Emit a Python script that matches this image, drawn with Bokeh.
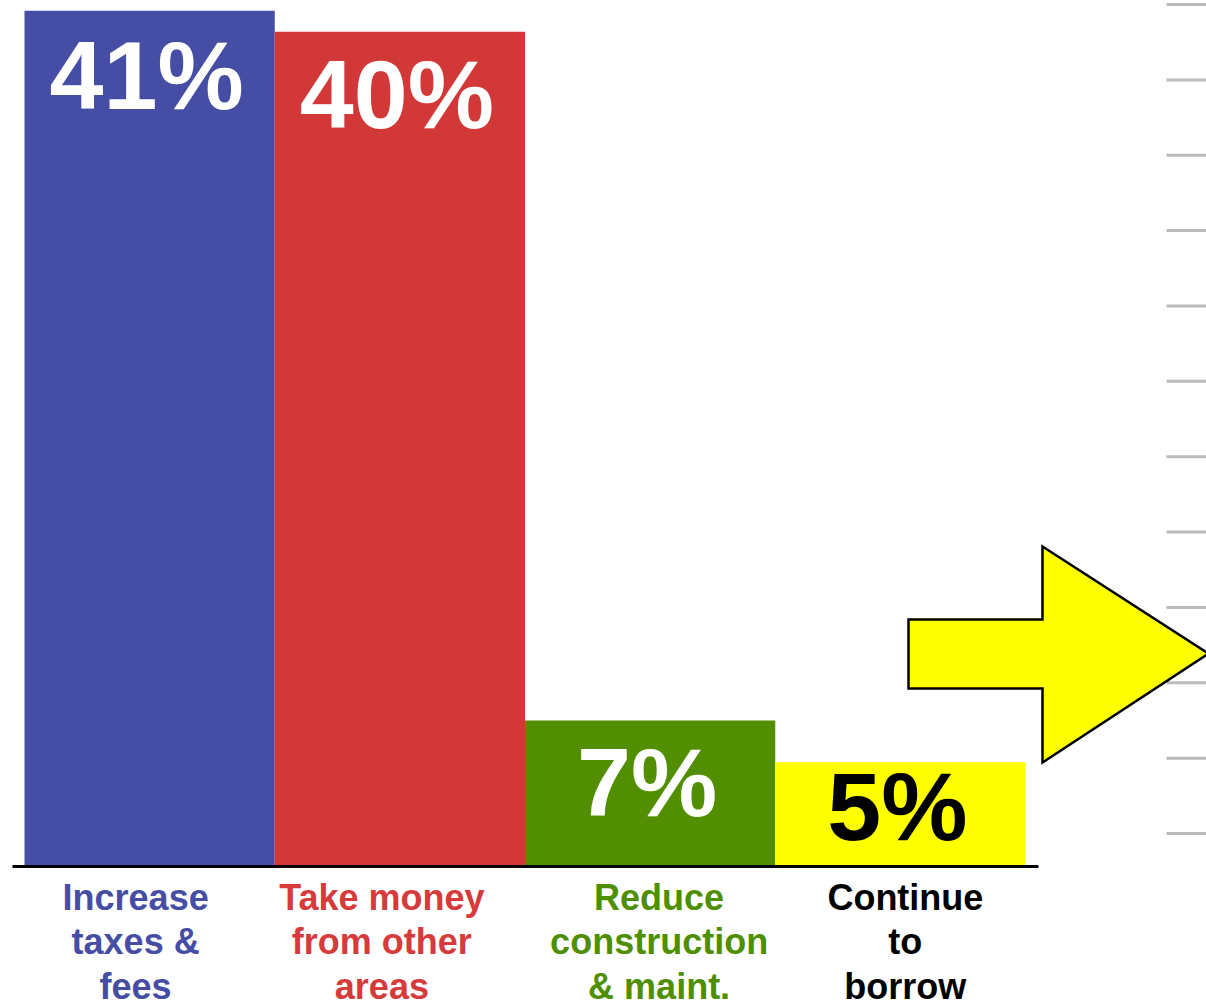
from bokeh.plotting import figure
from bokeh.models import Range1d, ColumnDataSource
from bokeh.core.properties import value
from bokeh.embed import file_html
from bokeh.resources import INLINE

# ---- data ----
categories = ["Increase\ntaxes &\nfees", "Take money\nfrom other\nareas",
              "Reduce\nconstruction\n& maint.", "Continue\nto\nborrow"]
percents = [41, 40, 7, 5]
pct_labels = ["41%", "40%", "7%", "5%"]

# ---- style ----
bar_colors = ["#454DA5", "#D33839", "#518F00", "#FFFF00"]
cat_text_colors = ["#454DA5", "#D63A3A", "#4E8F00", "#000000"]
pct_text_colors = ["#FFFFFF", "#FFFFFF", "#FFFFFF", "#000000"]
pct_offsets = [65, 63, 62, 44]          # px shift of percent labels below bar top
cat_dx = [-14, -18, 9, 5]               # px shift of category labels

W, H = 1206, 1003
px_per_cat = 250.25
left_px = 24
zero_px = 866
px_per_pct = 20.87

n = len(categories)
xs = list(range(n))

def xd(px):
    return (px - left_px) / px_per_cat - 0.5

def yd(py):
    return (zero_px - py) / px_per_pct

p = figure(width=W, height=H, output_backend="svg", toolbar_location=None,
           x_range=Range1d(xd(0), xd(W)), y_range=Range1d(yd(H), yd(0)),
           min_border=0, min_border_left=0, min_border_right=0,
           min_border_top=0, min_border_bottom=0)
p.axis.visible = False
p.grid.visible = False
p.outline_line_color = None
p.background_fill_color = "white"
p.border_fill_color = "white"

src = ColumnDataSource(dict(x=xs, top=percents, color=bar_colors, lab=pct_labels,
                            tcol=pct_text_colors, off=pct_offsets,
                            cat=categories, ccol=cat_text_colors, dx=cat_dx))

p.vbar(x="x", top="top", bottom=0, width=1.0, fill_color="color",
       line_color=None, source=src)

# baseline
p.segment(x0=[-0.5 - 12 / px_per_cat], x1=[n - 0.5 + 13 / px_per_cat],
          y0=[0], y1=[0], line_color="black", line_width=3)

# percent labels
p.text(x="x", y="top", text="lab", text_color="tcol", y_offset="off",
       text_font=value("Liberation Sans"), text_font_style="bold",
       text_font_size="97px", text_align="center", text_baseline="alphabetic",
       x_offset=-3, source=src)

# category labels
p.text(x="x", y=0, text="cat", text_color="ccol", x_offset="dx", y_offset=10,
       text_font=value("Liberation Sans"), text_font_style="bold",
       text_font_size="36px", text_align="center", text_baseline="top",
       text_line_height=1.09, source=src)

# right-side decorative tick marks (cropped neighbouring axis)
right_ticks = list(range(12))
tick_top_px, tick_step_px = 833, -75.36
p.segment(x0=[xd(1166)] * len(right_ticks), x1=[xd(W)] * len(right_ticks),
          y0=[yd(tick_top_px + tick_step_px * t) for t in right_ticks],
          y1=[yd(tick_top_px + tick_step_px * t) for t in right_ticks],
          line_color="#BBBBBB", line_width=3)

# yellow arrow
arrow_px = [(908, 619), (1042, 619), (1042, 546), (1208, 653),
            (1042, 762), (1042, 688), (908, 688)]
p.patch(x=[xd(a) for a, b in arrow_px], y=[yd(b) for a, b in arrow_px],
        fill_color="#FFFF00", line_color="black", line_width=2.5,
        line_join="miter")

open("out.html", "w").write(file_html(p, INLINE))
